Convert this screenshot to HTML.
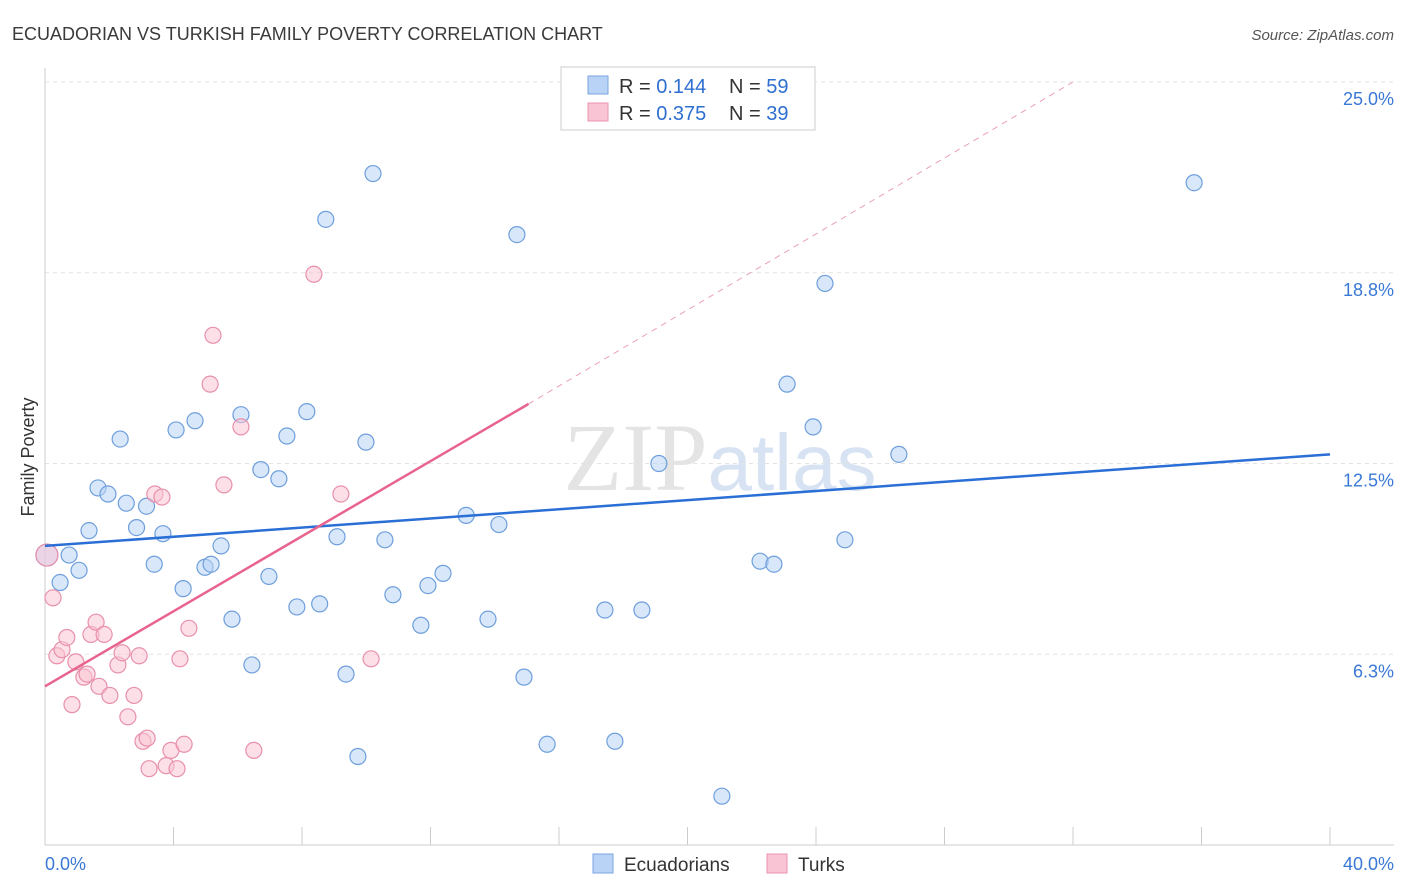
<!DOCTYPE html>
<html><head><meta charset="utf-8"><style>
body{margin:0;background:#fff;font-family:"Liberation Sans",sans-serif}
svg{display:block}
</style></head><body>
<svg id="chart" width="1406" height="892">
<text x="12" y="40" font-size="18" fill="#3a3a3a">ECUADORIAN VS TURKISH FAMILY POVERTY CORRELATION CHART</text>
<text x="1394" y="40" font-size="15" fill="#555" text-anchor="end" font-style="italic">Source: ZipAtlas.com</text>
<text x="720" y="490" font-size="96" fill="#e4e4e4" text-anchor="middle" font-family="Liberation Serif,serif">ZIP<tspan fill="#d7e3f3" font-family="Liberation Sans,sans-serif" font-size="80">atlas</tspan></text>
<g id="grid"></g><g id="marks"></g>
<text transform="translate(34,457) rotate(-90)" font-size="18" fill="#333" text-anchor="middle">Family Poverty</text>
<g>
<rect x="561" y="67" width="254" height="63" fill="#fff" stroke="#ccc"/>
<rect x="588" y="76" width="20" height="18" fill="#b8d3f5" stroke="#7aa6e0"/>
<rect x="588" y="103" width="20" height="18" fill="#f9c4d4" stroke="#eb95b0"/>
<text x="619" y="93" font-size="20" fill="#333">R = <tspan fill="#2e6fd0">0.144</tspan></text>
<text x="729" y="93" font-size="20" fill="#333">N = <tspan fill="#2e6fd0">59</tspan></text>
<text x="619" y="120" font-size="20" fill="#333">R = <tspan fill="#2e6fd0">0.375</tspan></text>
<text x="729" y="120" font-size="20" fill="#333">N = <tspan fill="#2e6fd0">39</tspan></text>
</g>
<g>
<rect x="593" y="854" width="20" height="19" fill="#b8d3f5" stroke="#7aa6e0"/>
<text x="624" y="871" font-size="19" fill="#333">Ecuadorians</text>
<rect x="767" y="854" width="20" height="19" fill="#f9c4d4" stroke="#eb95b0"/>
<text x="798" y="871" font-size="19" fill="#333">Turks</text>
</g>
</svg>
<script>
const yTicks=[6.25,12.5,18.75,25];
const yTickLabels=["6.3%","12.5%","18.8%","25.0%"];
const xTickLabels=["0.0%","40.0%"];
const blueX=[0.06,0.47,0.75,1.06,1.37,1.65,1.96,2.34,2.53,2.85,3.16,3.4,3.67,4.08,4.3,4.67,4.98,5.17,5.48,5.82,6.1,6.44,6.72,6.97,7.28,7.53,7.84,8.15,8.55,8.74,9.09,9.37,9.74,9.99,10.21,10.58,10.83,11.7,11.92,12.39,13.11,13.79,14.13,14.69,14.91,15.63,17.43,17.74,18.58,19.11,21.07,22.26,22.69,23.1,23.91,24.28,24.9,26.58,35.77];
const blueY=[9.5,8.6,9.5,9.0,10.3,11.7,11.5,13.3,11.2,10.4,11.1,9.2,10.2,13.6,8.4,13.9,9.1,9.2,9.8,7.4,14.1,5.9,12.3,8.8,12.0,13.4,7.8,14.2,7.9,20.5,10.1,5.6,2.9,13.2,22.0,10.0,8.2,7.2,8.5,8.9,10.8,7.4,10.5,20.0,5.5,3.3,7.7,3.4,7.7,12.5,1.6,9.3,9.2,15.1,13.7,18.4,10.0,12.8,21.7];
const pinkX=[0.06,0.25,0.37,0.53,0.68,0.84,0.96,1.21,1.31,1.43,1.59,1.68,1.84,2.02,2.27,2.4,2.58,2.77,2.93,3.05,3.18,3.24,3.42,3.64,3.77,3.92,4.11,4.2,4.33,4.48,5.14,5.23,5.57,6.1,6.5,8.37,9.21,10.15];
const pinkY=[9.5,8.1,6.2,6.4,6.8,4.6,6.0,5.5,5.6,6.9,7.3,5.2,6.9,4.9,5.9,6.3,4.2,4.9,6.2,3.4,3.5,2.5,11.5,11.4,2.6,3.1,2.5,6.1,3.3,7.1,15.1,16.7,11.8,13.7,3.1,18.7,11.5,6.1];
const blueTrend=[[0,9.8],[40,12.8]];
const pinkTrend=[[0,5.2],[15.05,14.45],[32,25]];
const NS="http://www.w3.org/2000/svg";
const L=45,R=1330,T=82,B=845;
const xs=v=>L+v/40*(R-L), ys=v=>B-v/25*(B-T);
function mk(tag,attrs,parent){const e=document.createElementNS(NS,tag);for(const k in attrs)e.setAttribute(k,attrs[k]);parent.appendChild(e);return e;}
const grid=document.getElementById('grid'),marks=document.getElementById('marks');
yTicks.forEach((t,i)=>{
 const l=mk('line',{x1:L,x2:1394,y1:ys(t),y2:ys(t),stroke:'#e3e3e3','stroke-dasharray':'4,4'},grid);
 
 
 const tx=mk('text',{x:1394,y:ys(t)+23,'font-size':18,fill:'#3a78d6','text-anchor':'end'},grid);
 tx.textContent=yTickLabels[i];
 
 
});
const ax=mk('line',{x1:L,x2:1394,y1:B,y2:B,stroke:'#ccc'},grid);


const ay=mk('line',{x1:L,x2:L,y1:68,y2:B,stroke:'#ccc'},grid);


for(let i=0;i<=10;i++){const x=xs(i*4);const tk=mk('line',{x1:x,x2:x,y1:827,y2:B,stroke:'#ccc'},grid);
 
 }
[[0,'start',45],[40,'end',1394]].forEach((d,i)=>{const t=mk('text',{x:d[2],y:870,'font-size':18,fill:'#3a78d6','text-anchor':d[1]},grid);t.textContent=xTickLabels[i];
 
 });
function dots(X,Y,fill,stroke,name){X.forEach((v,i)=>{const r=i===0?11:8;
 const c=mk('circle',{cx:xs(v),cy:ys(Y[i]),r:r,fill:fill,'fill-opacity':0.55,stroke:stroke,'stroke-width':1.2},marks);
 
 });}
dots(blueX,blueY,'#b8d3f5','#6e9fdc','ecuadorian-point');
dots(pinkX,pinkY,'#f9c4d4','#e890ac','turkish-point');
const bt=mk('line',{x1:xs(blueTrend[0][0]),y1:ys(blueTrend[0][1]),x2:xs(blueTrend[1][0]),y2:ys(blueTrend[1][1]),stroke:'#2a6fd6','stroke-width':2.5},marks);


const pt=mk('line',{x1:xs(pinkTrend[0][0]),y1:ys(pinkTrend[0][1]),x2:xs(pinkTrend[1][0]),y2:ys(pinkTrend[1][1]),stroke:'#e8648f','stroke-width':2.5},marks);


const pd=mk('line',{x1:xs(pinkTrend[1][0]),y1:ys(pinkTrend[1][1]),x2:xs(pinkTrend[2][0]),y2:ys(pinkTrend[2][1]),stroke:'#eca0b8','stroke-width':1,'stroke-dasharray':'6,5'},marks);


</script>
</body></html>
